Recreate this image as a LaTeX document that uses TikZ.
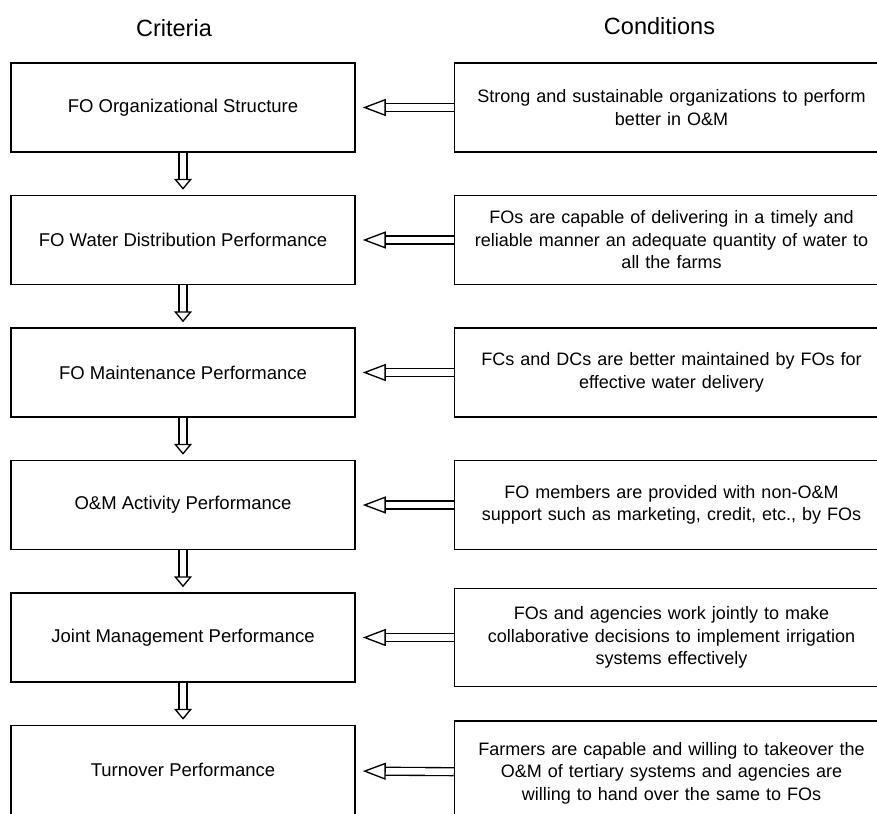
\documentclass[tikz,border=0pt]{standalone}
\usepackage{fontspec}
\setmainfont{Liberation Sans}
\usetikzlibrary{positioning,arrows.meta}

\begin{document}
\begin{tikzpicture}[
		x=1pt,y=1pt,
		node distance=42pt and 98pt,
		crit/.style={draw,line width=1.5pt,minimum width=344pt,minimum height=89pt,inner sep=2pt,align=center,font=\fontsize{18.5}{22.5}\selectfont},
		cond/.style={draw,line width=1.5pt,minimum width=434pt,minimum height=89pt,text width=415pt,inner sep=2pt,align=center,font=\fontsize{18}{22.5}\selectfont},
		head/.style={font=\fontsize{23.5}{28}\selectfont},
		downarr/.style={draw,double,double distance=6.5pt,line width=1.35pt,shorten >=5pt,-{Triangle[open,length=11pt,width=18pt]}},
		leftarr/.style={draw,double,double distance=6.5pt,line width=1.35pt,shorten >=7pt,-{Triangle[open,length=23pt,width=17pt]}}
		]
		\useasboundingbox (0,0) rectangle (877,-813);
		\node[crit] (org) at (183,-107.5) {FO Organizational Structure};
		\node[crit,below=of org] (water) {FO Water Distribution Performance};
		\node[crit,below=of water] (maint) {FO Maintenance Performance};
		\node[crit,below=of maint] (om) {O\&M Activity Performance};
		\node[crit,below=of om] (joint) {Joint Management Performance};
		\node[crit,below=of joint] (turn) {Turnover Performance};
		
		\node[cond,right=of org] (strong) {Strong and sustainable organizations to perform\\better in O\&M};
		\node[cond,right=of water] (timely) {FOs are capable of delivering in a timely and\\reliable manner an adequate quantity of water to\\all the farms};
		\node[cond,right=of maint] (fcs) {FCs and DCs are better maintained by FOs for\\effective water delivery};
		\node[cond,right=of om] (members) {FO members are provided with non-O\&M\\support such as marketing, credit, etc., by FOs};
		\node[cond,right=of joint,minimum height=98pt] (agencies) {FOs and agencies work jointly to make\\collaborative decisions to implement irrigation\\systems effectively};
		\node[cond,right=of turn,minimum height=104pt,yshift=-3pt] (farmers) {Farmers are capable and willing to takeover the\\O\&M of tertiary systems and agencies are\\willing to hand over the same to FOs};
		
		\node[head,above=22pt of org,xshift=-9pt] (criteria) {Criteria};
		\node[head,above=24pt of strong,xshift=-12pt] (conditions) {Conditions};
		
		\draw[downarr] (org) -- (water);
		\draw[downarr] (water) -- (maint);
		\draw[downarr] (maint) -- (om);
		\draw[downarr] (om) -- (joint);
		\draw[downarr] (joint) -- (turn);
		\draw[leftarr] (strong) -- (org);
		\draw[leftarr] (timely) -- (water);
		\draw[leftarr] (fcs) -- (maint);
		\draw[leftarr] (members) -- (om);
		\draw[leftarr] (agencies) -- (joint);
		\draw[leftarr] (farmers) -- (turn);
	\end{tikzpicture}
\end{document}
